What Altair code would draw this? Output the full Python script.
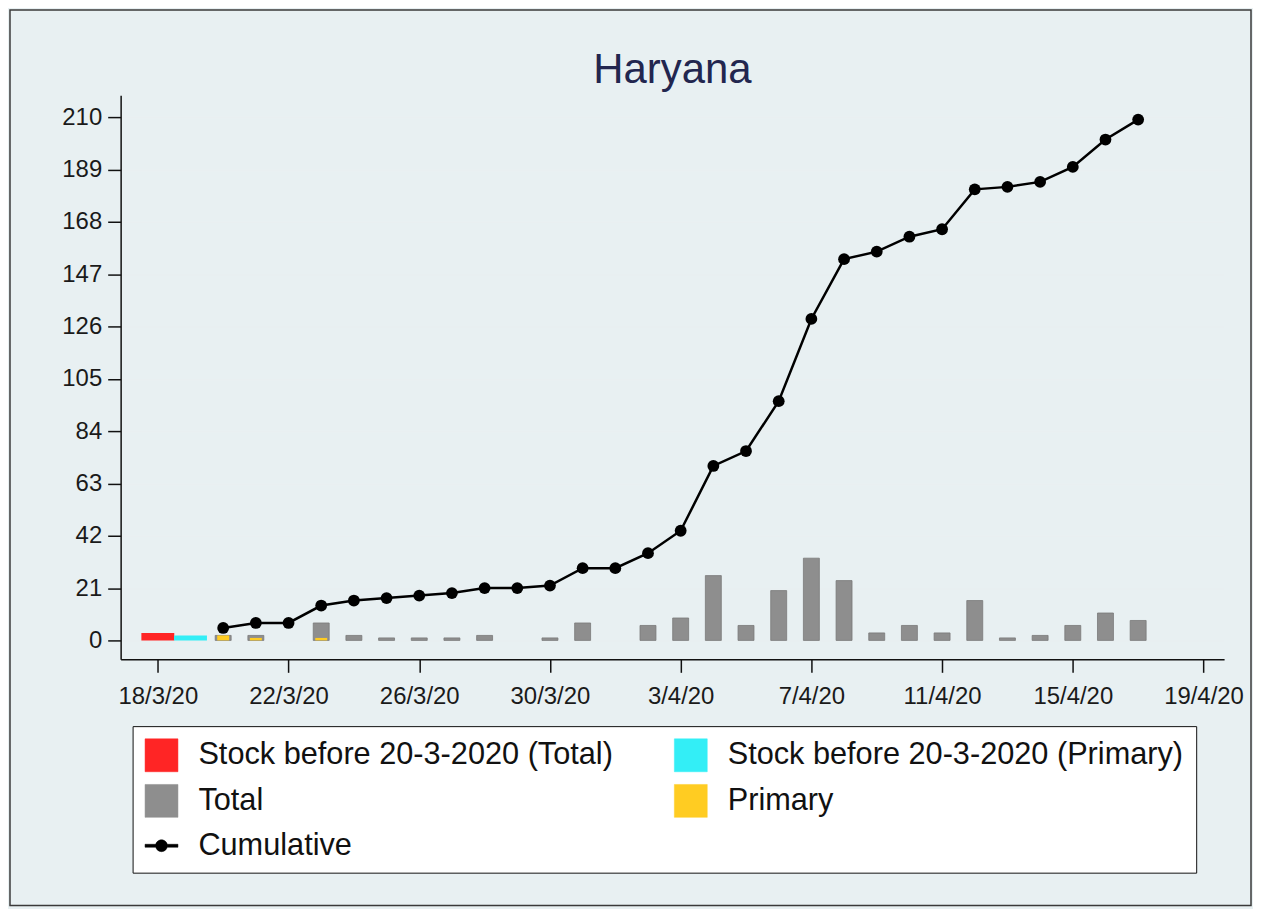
import altair as alt
import pandas as pd

# ---------------- data ----------------
dates = [
    "2020-03-20", "2020-03-21", "2020-03-22", "2020-03-23", "2020-03-24",
    "2020-03-25", "2020-03-26", "2020-03-27", "2020-03-28", "2020-03-29",
    "2020-03-30", "2020-03-31", "2020-04-01", "2020-04-02", "2020-04-03",
    "2020-04-04", "2020-04-05", "2020-04-06", "2020-04-07", "2020-04-08",
    "2020-04-09", "2020-04-10", "2020-04-11", "2020-04-12", "2020-04-13",
    "2020-04-14", "2020-04-15", "2020-04-16", "2020-04-17",
]
total = [2, 2, 0, 7, 2, 1, 1, 1, 2, 0, 1, 7, 0, 6, 9, 26, 6, 20, 33, 24,
         3, 6, 3, 16, 1, 2, 6, 11, 8]
primary = [2, 1, 0, 1, 0, 0, 0, 0, 0, 0, 0, 0, 0, 0, 0, 0, 0, 0, 0, 0,
           0, 0, 0, 0, 0, 0, 0, 0, 0]
cumulative = [5, 7, 7, 14, 16, 17, 18, 19, 21, 21, 22, 29, 29, 35, 44, 70,
              76, 96, 129, 153, 156, 162, 165, 181, 182, 184, 190, 201, 209]

stock_dates = ["2020-03-18", "2020-03-19"]
stock_values = [3, 2]

series_names = [
    "Stock before 20-3-2020 (Total)",
    "Stock before 20-3-2020 (Primary)",
    "Total",
    "Primary",
    "Cumulative",
]
series_colors = ["#FF2525", "#33EEF6", "#8E8E8E", "#FFCC22", "#000000"]

y_ticks = [0, 21, 42, 63, 84, 105, 126, 147, 168, 189, 210]
x_tick_dates = ["2020-03-18", "2020-03-22", "2020-03-26", "2020-03-30",
                "2020-04-03", "2020-04-07", "2020-04-11", "2020-04-15",
                "2020-04-19"]

title_text = "Haryana"

# ---------------- tables ----------------
DAY = 86400000


def ms(s):
    return int(pd.Timestamp(s, tz="UTC").value // 10**6)


x_domain = [ms("2020-03-18") - int(1.138 * DAY), ms("2020-03-18") + int(32.63 * DAY)]
x_values = [ms(s) for s in x_tick_dates]

stock_df = pd.DataFrame({"date": stock_dates, "value": stock_values,
                         "series": series_names[:2]})
total_df = pd.DataFrame({"date": dates, "value": total, "series": "Total"})
primary_df = pd.DataFrame({"date": dates, "value": primary, "series": "Primary"})
cum_df = pd.DataFrame({"date": dates, "value": cumulative, "series": "Cumulative"})

FONT = "Liberation Sans"

x_axis = alt.Axis(values=x_values, format="%-d/%-m/%y", title=None, grid=False,
                  labelFontSize=24, labelFont=FONT, labelColor="#1a1a1a",
                  tickSize=13, tickWidth=1.5, tickColor="#111111",
                  domainColor="#111111", domainWidth=1.5, labelPadding=12,
                  labelOverlap=False)
y_axis = alt.Axis(values=y_ticks, title=None, grid=True, gridColor="#E9EFF1",
                  gridWidth=1.5, labelFontSize=24, labelFont=FONT,
                  labelColor="#1a1a1a", tickSize=13, tickWidth=1.5,
                  tickColor="#111111", domainColor="#111111", domainWidth=1.5,
                  labelPadding=6, labelOverlap=False)

X = alt.X("date:T", scale=alt.Scale(type="utc", domain=x_domain, padding=0),
          axis=x_axis)
Y = alt.Y("value:Q", scale=alt.Scale(domain=[-7.6, 218.8], zero=False, nice=False),
          axis=y_axis)

cum_symbol = ("M-1,-0.09L-0.36,-0.09L-0.36,0.09L-1,0.09Z "
              "M0.36,-0.09L1,-0.09L1,0.09L0.36,0.09Z "
              "M-0.36,0A0.36,0.36,0,1,0,0.36,0A0.36,0.36,0,1,0,-0.36,0Z")

legend = alt.Legend(title=None, orient="none", legendX=12, legendY=633,
                    direction="horizontal", columns=2, symbolSize=1089,
                    labelFontSize=30.8, labelFont=FONT, labelColor="#111111",
                    labelLimit=800, labelOffset=20, columnPadding=60,
                    rowPadding=10, padding=12, strokeColor="#111111",
                    fillColor="#FFFFFF", symbolStrokeWidth=0.5)

C = alt.Color("series:N", scale=alt.Scale(domain=series_names, range=series_colors),
              legend=legend)

stock_layer = alt.Chart(stock_df).mark_bar(size=33).encode(
    x=X, y=Y, y2=alt.datum(0), color=C)
total_layer = alt.Chart(total_df).transform_filter("datum.value > 0").mark_bar(
    size=16, stroke="#7A7A7A", strokeWidth=0.8).encode(
    x=X, y=Y, y2=alt.datum(0), color=C)
primary_layer = alt.Chart(primary_df).transform_filter("datum.value > 0").mark_bar(
    size=12).encode(x=X, y=Y, y2=alt.datum(0), color=C)
line_layer = alt.Chart(cum_df).mark_line(strokeWidth=2.5).encode(
    x=X, y=Y, color=C)
point_layer = alt.Chart(cum_df).mark_point(filled=True, size=140, opacity=1).encode(
    x=X, y=Y, color=C)
legend_layer = alt.Chart(cum_df).transform_filter("false").mark_point(
    filled=True, opacity=1).encode(
    color=C,
    shape=alt.Shape("series:N",
                    scale=alt.Scale(domain=series_names,
                                    range=["square", "square", "square", "square",
                                           cum_symbol]),
                    legend=legend))

frame_layer = alt.Chart(pd.DataFrame({"k": [0]})).mark_rect(
    fillOpacity=0, stroke="#3a3a3a", strokeWidth=1.5).encode(
    x=alt.value(-111), x2=alt.value(1134), y=alt.value(-85.5), y2=alt.value(813))

chart = alt.layer(
    stock_layer, total_layer, primary_layer, line_layer, point_layer,
    legend_layer, frame_layer
).properties(
    width=1107, height=566,
    title=alt.TitleParams(title_text, fontSize=42, font=FONT, fontWeight="normal",
                          color="#22264F", anchor="middle", frame="group",
                          baseline="alphabetic", offset=-116),
    autosize=alt.AutoSizeParams(type="none"),
    padding={"left": 113, "top": 86, "right": 29, "bottom": 249},
).configure(
    background="#E8F0F2",
).configure_view(
    fill="#FFFFFF", stroke="transparent"
)

chart.save("out.html", embed_options={"renderer": "svg", "actions": False})
